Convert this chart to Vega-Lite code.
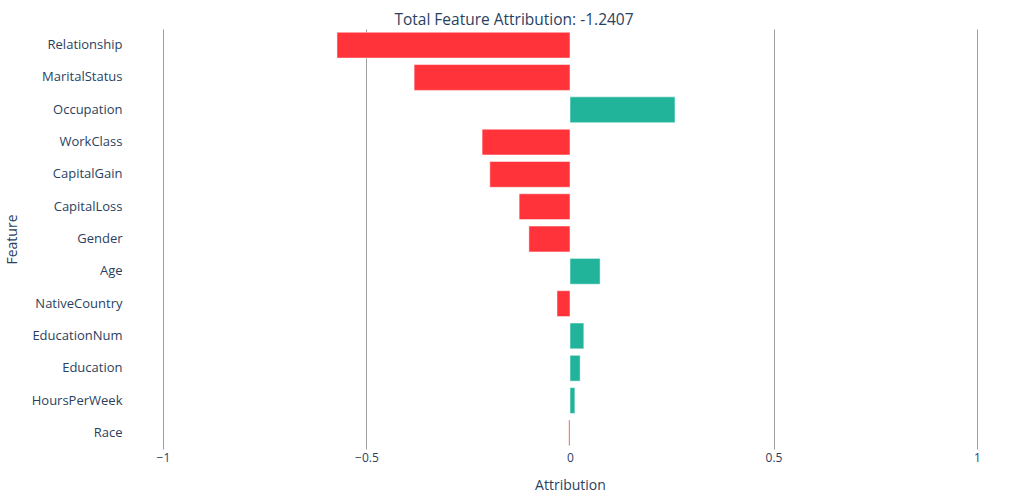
{
  "$schema": "https://vega.github.io/schema/vega-lite/v6.json",
  "autosize": {"type": "none"},
  "padding": {"left": 130, "top": 29, "right": 18, "bottom": 51},
  "width": 880,
  "height": 420,
  "background": "white",
  "config": {
    "view": {"stroke": null},
    "font": "Open Sans"
  },
  "title": {
    "text": "Total Feature Attribution: -1.2407",
    "fontSize": 15.5,
    "fontWeight": "normal",
    "color": "#2a3f5f",
    "anchor": "middle",
    "dx": -56,
    "offset": 1
  },
  "data": {
    "values": [
      {"feature": "Relationship", "attribution": -0.5725},
      {"feature": "MaritalStatus", "attribution": -0.383},
      {"feature": "Occupation", "attribution": 0.258},
      {"feature": "WorkClass", "attribution": -0.216},
      {"feature": "CapitalGain", "attribution": -0.197},
      {"feature": "CapitalLoss", "attribution": -0.125},
      {"feature": "Gender", "attribution": -0.101},
      {"feature": "Age", "attribution": 0.074},
      {"feature": "NativeCountry", "attribution": -0.032},
      {"feature": "EducationNum", "attribution": 0.034},
      {"feature": "Education", "attribution": 0.025},
      {"feature": "HoursPerWeek", "attribution": 0.012},
      {"feature": "Race", "attribution": -0.003}
    ]
  },
  "mark": {"type": "bar", "stroke": "white", "strokeWidth": 1, "strokeOpacity": 0.5},
  "encoding": {
    "y": {
      "field": "feature",
      "type": "nominal",
      "sort": null,
      "title": "Feature",
      "scale": {"paddingInner": 0.2, "paddingOuter": 0.1},
      "axis": {
        "ticks": false,
        "domain": false,
        "grid": false,
        "labelFontSize": 13,
        "labelColor": "#2a3f5f",
        "labelPadding": 8,
        "titleFontSize": 14,
        "titleFontWeight": "normal",
        "titleColor": "#2a3f5f",
        "titlePadding": 12
      }
    },
    "x": {
      "field": "attribution",
      "type": "quantitative",
      "title": "Attribution",
      "scale": {"domain": [-1.081, 1.081], "nice": false, "zero": false},
      "axis": {
        "values": [-1, -0.5, 0, 0.5, 1],
        "format": "~g",
        "ticks": false,
        "domain": false,
        "grid": true,
        "gridColor": {"condition": {"test": "datum.value === 0", "value": "transparent"}, "value": "#9e9e9e"},
        "gridWidth": 1,
        "gridOpacity": 1,
        "labelFontSize": 12,
        "labelColor": "#2a3f5f",
        "labelPadding": 3,
        "titleFontSize": 14,
        "titleFontWeight": "normal",
        "titleColor": "#2a3f5f",
        "titlePadding": 15
      }
    },
    "color": {
      "condition": {"test": "datum.attribution < 0", "value": "#ff3339"},
      "value": "#21b49a"
    }
  }
}
